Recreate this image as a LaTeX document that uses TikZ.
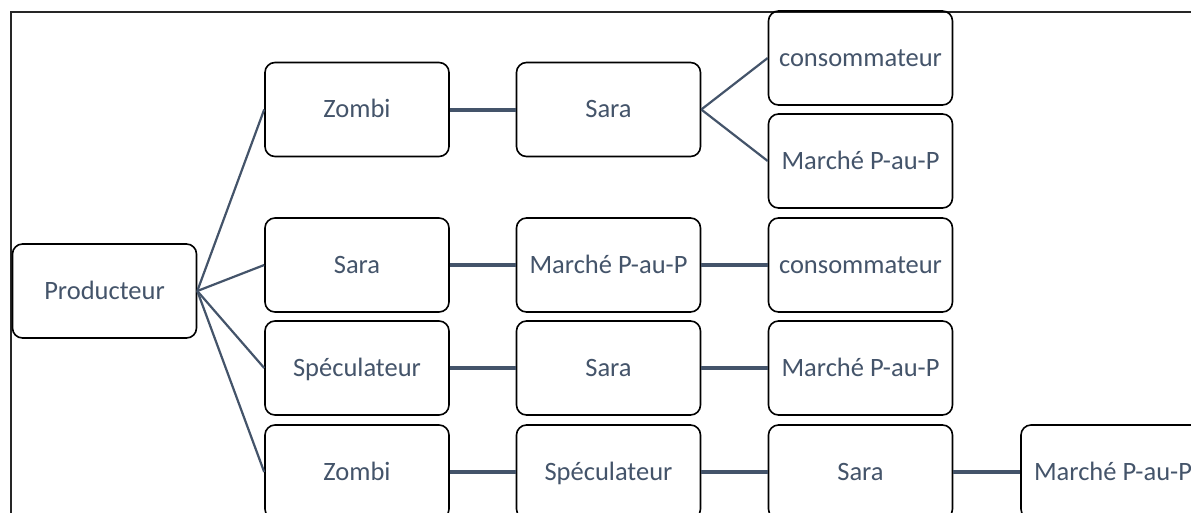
\documentclass[tikz,border=0pt]{standalone}
\usepackage{fontspec}
\setmainfont{Carlito}
\definecolor{txt}{HTML}{44546A}
\begin{document}
\begin{tikzpicture}[x=1pt,y=-1pt,
  box/.style={draw=black,line width=1.6pt,rounded corners=10pt,minimum width=184pt,minimum height=94pt,inner sep=0pt,text height=19pt,text depth=3pt,text=txt,font=\fontsize{26.5}{30}\selectfont},
  thin/.style={draw=txt,line width=2.2pt},
  thick/.style={draw=txt,line width=4pt}]
\useasboundingbox (0,0) rectangle (1191,512);
\clip (0,0) rectangle (1191,512);
\fill[white] (0,0) rectangle (1191,512);
\draw[line width=1.5pt,black!85] (11,12) rectangle (1400,700);
\node[box] (p) at (104.5,291) {Producteur};
\node[box] (z1) at (357,109.5) {Zombi};
\node[box] (s1) at (608.5,109.5) {Sara};
\node[box] (c1) at (860.5,58) {consommateur};
\node[box] (m1) at (860.5,161) {Marché P-au-P};
\node[box] (s2) at (357,265) {Sara};
\node[box] (m2) at (608.5,265) {Marché P-au-P};
\node[box] (c2) at (860.5,265) {consommateur};
\node[box] (sp3) at (357,368) {Spéculateur};
\node[box] (s3) at (608.5,368) {Sara};
\node[box] (m3) at (860.5,368) {Marché P-au-P};
\node[box] (z4) at (357,472) {Zombi};
\node[box] (sp4) at (608.5,472) {Spéculateur};
\node[box] (s4) at (860.5,472) {Sara};
\node[box] (m4) at (1113,472) {Marché P-au-P};
\foreach \t in {z1,s2,sp3,z4} \draw[thin] (p.east) -- (\t.west);
\draw[thin] (s1.east) -- (c1.west);
\draw[thin] (s1.east) -- (m1.west);
\draw[thick] (z1) -- (s1);
\draw[thick] (s2) -- (m2);
\draw[thick] (m2) -- (c2);
\draw[thick] (sp3) -- (s3);
\draw[thick] (s3) -- (m3);
\draw[thick] (z4) -- (sp4);
\draw[thick] (sp4) -- (s4);
\draw[thick] (s4) -- (m4);
\end{tikzpicture}
\end{document}
